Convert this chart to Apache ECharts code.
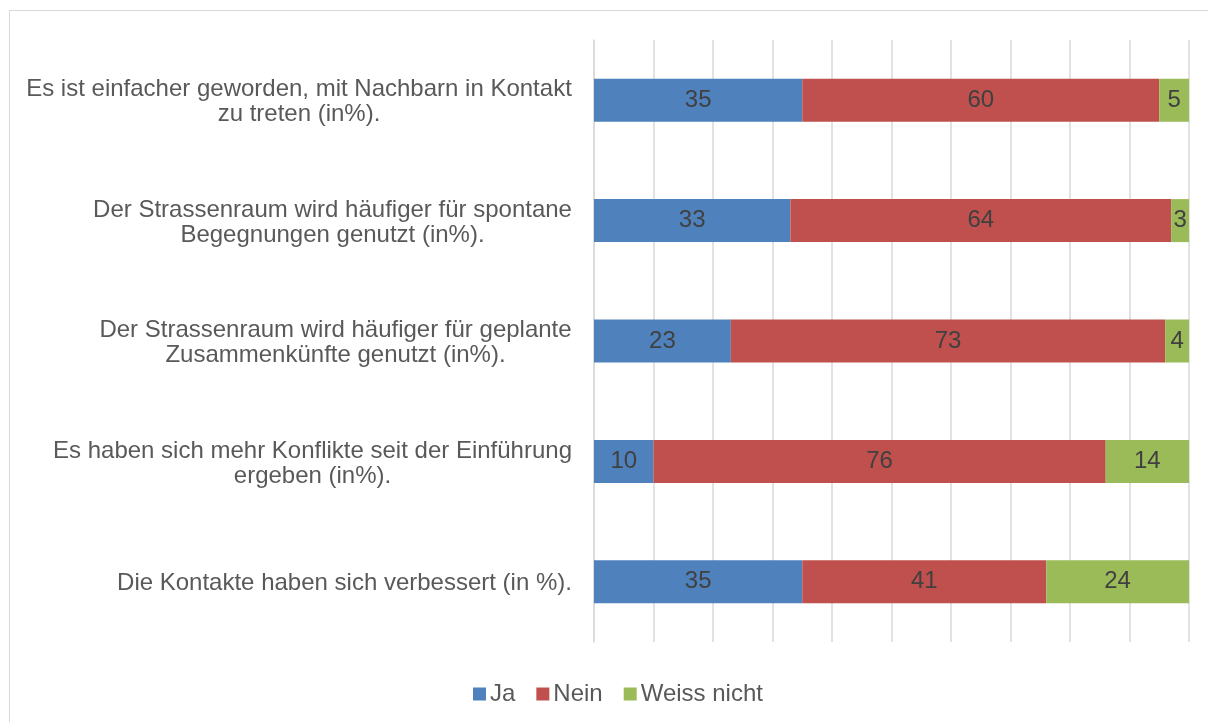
<!DOCTYPE html>
<html lang="de">
<head>
    <meta charset="utf-8">
    <title>Kontakte</title>
    <script src="https://cdn.jsdelivr.net/npm/echarts@6/dist/echarts.min.js"></script>
    <style>
        body { margin: 0; background: #fff; overflow: hidden; }
        #rahmen { position: absolute; left: 9px; top: 10px; width: 1300px; height: 800px; border: 1px solid #d9d9d9; }
        #chart { position: absolute; left: 0; top: 0; width: 1208px; height: 722px; }
    </style>
</head>
<body>
<div id="rahmen"></div>
<div id="chart"></div>

<script type="text/javascript">
var fragen = [
    'Es ist einfacher geworden, mit Nachbarn in Kontakt\nzu treten (in%).',
    'Der Strassenraum wird häufiger für spontane\nBegegnungen genutzt (in%).',
    'Der Strassenraum wird häufiger für geplante\nZusammenkünfte genutzt (in%).',
    'Es haben sich mehr Konflikte seit der Einführung\nergeben (in%).',
    'Die Kontakte haben sich verbessert (in %).'
];
var ja = [35, 33, 23, 10, 35];
var nein = [60, 64, 73, 76, 41];
var weissNicht = [5, 3, 4, 14, 24];

var familie = '"Liberation Sans", Arial, sans-serif';
var ctx = document.createElement('canvas').getContext('2d');
ctx.font = '24px ' + familie;

function blockBreite(text) {
    var breite = 0;
    text.split('\n').forEach(function (t) { breite = Math.max(breite, ctx.measureText(t).width); });
    return Math.ceil(breite) + 2;
}

// jede Zeile als eigener rich-Token mit gleicher Breite -> Zeilen zentriert, Block rechtsbündig
function zeilen(text) {
    var b = blockBreite(text);
    return text.split('\n').map(function (t) {
        return '{z' + b + '|' + t + '}';
    }).join('\n');
}

var rich = {};
fragen.forEach(function (f) {
    var b = blockBreite(f);
    rich['z' + b] = {
        width: b, align: 'center', fontSize: 24, lineHeight: 25,
        color: '#595959', fontFamily: familie
    };
});

function reihe(name, werte, farbe) {
    return {
        name: name,
        type: 'bar',
        stack: 'summe',
        barWidth: 43,
        data: werte,
        itemStyle: { color: farbe },
        label: {
            show: true,
            position: 'inside',
            color: '#404040',
            fontSize: 24,
            fontFamily: familie
        }
    };
}

var myChart = echarts.init(document.getElementById('chart'));
myChart.setOption({
    animation: false,
    grid: { left: 594, right: 19, top: 40, bottom: 80 },
    legend: {
        top: 677,
        left: 468,
        itemWidth: 13,
        itemHeight: 13,
        itemGap: 21,
        icon: 'rect',
        textStyle: { color: '#595959', fontSize: 24, fontFamily: familie, padding: [0, 0, 0, -1] },
        data: ['Ja', 'Nein', 'Weiss nicht']
    },
    xAxis: {
        type: 'value',
        min: 0,
        max: 100,
        interval: 10,
        axisLabel: { show: false },
        axisLine: { show: false },
        axisTick: { show: false },
        splitLine: { show: true, lineStyle: { color: '#d9d9d9', width: 1.5 } }
    },
    yAxis: {
        type: 'category',
        inverse: true,
        data: fragen,
        axisTick: { show: false },
        axisLine: { show: true, lineStyle: { color: '#d9d9d9', width: 1.5 } },
        axisLabel: {
            margin: 21,
            padding: [4, 0, 0, 0],
            formatter: function (v) { return zeilen(v); },
            rich: rich
        }
    },
    series: [
        reihe('Ja', ja, '#4f81bd'),
        reihe('Nein', nein, '#c0504d'),
        reihe('Weiss nicht', weissNicht, '#9bbb59')
    ]
});
</script>
</body>
</html>
